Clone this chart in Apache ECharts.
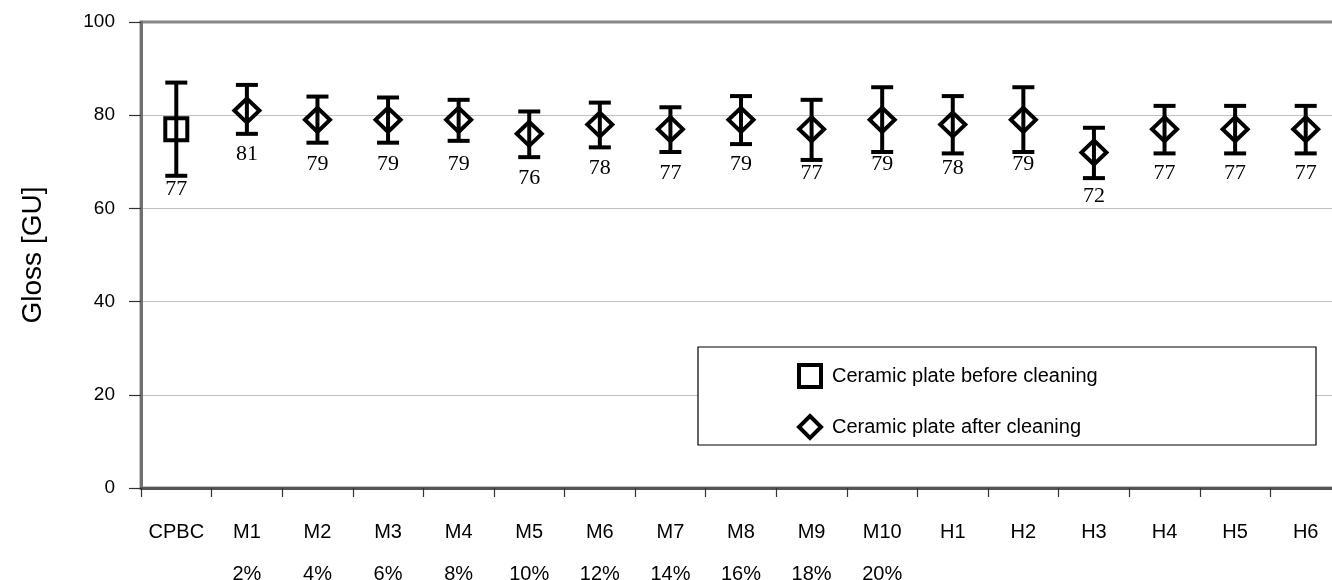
<!DOCTYPE html>
<html>
<head>
<meta charset="utf-8">
<script src="https://cdn.jsdelivr.net/npm/echarts@6/dist/echarts.min.js"></script>
<style>
html,body{margin:0;padding:0;background:#fff;}
#chart{width:1332px;height:580px;}
</style>
</head>
<body>
<div id="chart"></div>
<script>
var categories = ['CPBC','M1','M2','M3','M4','M5','M6','M7','M8','M9','M10','H1','H2','H3','H4','H5','H6'];
var percentLabels = ['','2%','4%','6%','8%','10%','12%','14%','16%','18%','20%','','','','','',''];
var beforeValues = [77,'-','-','-','-','-','-','-','-','-','-','-','-','-','-','-','-'];
var afterValues = ['-',81,79,79,79,76,78,77,79,77,79,78,79,72,77,77,77];
var errLow  = [67.0,76.0,74.1,74.1,74.5,71.0,73.1,72.1,73.8,70.4,72.1,71.8,72.1,66.5,71.8,71.8,71.8];
var errHigh = [87.0,86.5,84.0,83.8,83.3,80.8,82.7,81.7,84.1,83.3,86.0,84.1,86.0,77.3,82.0,82.0,82.0];
var yTicks = [0,20,40,60,80,100];
var legendNames = ['Ceramic plate before cleaning','Ceramic plate after cleaning'];

var SANS = '"Liberation Sans", Arial, sans-serif';
var SERIF = '"Liberation Serif", "Times New Roman", serif';

var errData = categories.map(function(c,i){ return [i, errLow[i], errHigh[i]]; });

var chart = echarts.init(document.getElementById('chart'), null, {renderer:'canvas'});
chart.setOption({
  animation:false,
  backgroundColor:'#fff',
  grid:{left:141, top:22, width:1200, height:466, containLabel:false, outerBoundsMode:'none',
        show:true, borderColor:'#888', borderWidth:3, backgroundColor:'transparent'},
  xAxis:{
    type:'category', data:categories,
    axisLine:{show:true, lineStyle:{color:'#555', width:3}},
    axisTick:{show:true, interval:0, length:9, lineStyle:{color:'#333', width:1.2}},
    axisLabel:{
      interval:0, margin:23, color:'#000', fontSize:20, fontFamily:SANS, lineHeight:42,
      formatter:function(v, i){ return percentLabels[i] ? v + '\n' + percentLabels[i] : v; }
    },
    splitLine:{show:false}
  },
  yAxis:{
    type:'value', min:0, max:100, interval:20,
    name:'Gloss [GU]', nameLocation:'middle', nameRotate:90, nameGap:94,
    nameTextStyle:{fontSize:28, fontFamily:SANS, color:'#000'},
    axisLine:{show:true, lineStyle:{color:'#707070', width:3}},
    axisTick:{show:true, length:12, lineStyle:{color:'#333', width:1.2}},
    axisLabel:{margin:26, color:'#000', fontSize:19, fontFamily:SANS,
      formatter:function(v){ return yTicks.indexOf(v) >= 0 ? String(v) : ''; }},
    splitLine:{show:true, lineStyle:{color:['#c0c0c0','#c0c0c0','#c0c0c0','#c0c0c0','#c0c0c0','#888'], width:1}}
  },
  legend:{
    data:legendNames, orient:'vertical', left:797, top:363, itemGap:25,
    itemWidth:22, itemHeight:22, padding:0, z:5,
    itemStyle:{color:'#fff', borderColor:'#000', borderWidth:4, opacity:1},
    textStyle:{fontSize:20, fontFamily:SANS, color:'#000', padding:[0,0,0,6]}
  },
  graphic:[{
    type:'rect', z:4, silent:true,
    shape:{x:698, y:347, width:618, height:98},
    style:{fill:'#fff', stroke:'#000', lineWidth:1.2}
  }],
  series:[
    {
      name:legendNames[0], type:'scatter', data:beforeValues, z:3,
      symbol:'rect', symbolSize:22,
      itemStyle:{color:'#fff', borderColor:'#000', borderWidth:4, opacity:1},
      label:{show:true, position:'inside', offset:[0,60], color:'#000', fontSize:22, fontFamily:SERIF}
    },
    {
      name:legendNames[1], type:'scatter', data:afterValues, z:3,
      symbol:'diamond', symbolSize:[25,24],
      itemStyle:{color:'#fff', borderColor:'#000', borderWidth:4, opacity:1},
      label:{show:true, position:'inside', offset:[0,44], color:'#000', fontSize:22, fontFamily:SERIF}
    },
    {
      type:'custom', data:errData, z:4, silent:true,
      encode:{x:0, y:[1,2]},
      renderItem:function(params, api){
        var lo = api.coord([api.value(0), api.value(1)]);
        var hi = api.coord([api.value(0), api.value(2)]);
        var hw = 11;
        var st = {stroke:'#000', lineWidth:4};
        return {type:'group', children:[
          {type:'line', shape:{x1:lo[0], y1:lo[1], x2:hi[0], y2:hi[1]}, style:st},
          {type:'line', shape:{x1:lo[0]-hw, y1:lo[1], x2:lo[0]+hw, y2:lo[1]}, style:st},
          {type:'line', shape:{x1:hi[0]-hw, y1:hi[1], x2:hi[0]+hw, y2:hi[1]}, style:st}
        ]};
      }
    }
  ]
});
</script>
</body>
</html>
